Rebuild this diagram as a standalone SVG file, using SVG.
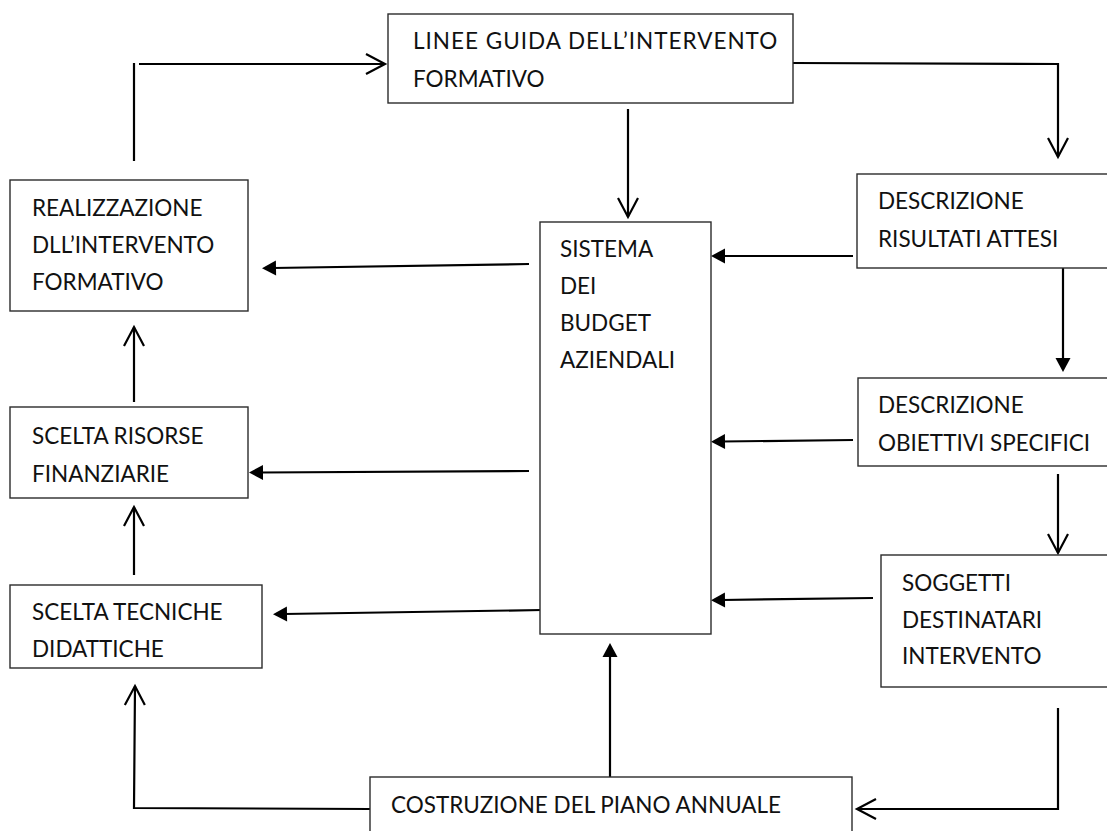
<svg xmlns="http://www.w3.org/2000/svg" width="1107" height="831" viewBox="0 0 1107 831">
  <style>
    .box { fill: #ffffff; stroke: #2b2b2b; stroke-width: 1.4; }
    .lbl { font-family: Lato, "Open Sans", "Liberation Sans", sans-serif; font-size: 22.5px; fill: #111111; }
    .wire { fill: none; stroke: #000000; stroke-width: 2.2; }
    .open { marker-end: url(#chevron); }
    .solid { marker-end: url(#tri); }
  </style>
  <defs>
    <marker id="chevron" markerUnits="userSpaceOnUse" markerWidth="40" markerHeight="40" refX="0" refY="0" orient="auto" overflow="visible">
      <path d="M-19,-10 L0,0 L-19,10" fill="none" stroke="#000000" stroke-width="2.2"/>
    </marker>
    <marker id="tri" markerUnits="userSpaceOnUse" markerWidth="40" markerHeight="40" refX="0" refY="0" orient="auto" overflow="visible">
      <path d="M-3,-7.5 L11,0 L-3,7.5 Z" fill="#000000"/>
    </marker>
  </defs>
  <rect width="1107" height="831" fill="#ffffff"/>

  <!-- connectors -->
  <g id="connectors">
    <!-- loop back to the guidelines -->
    <line class="wire" x1="134" y1="161" x2="134" y2="63"/>
    <line class="wire open" x1="139" y1="64" x2="385" y2="64"/>
    <!-- guidelines to expected results -->
    <polyline class="wire open" points="793,63 1058,64 1058,157"/>
    <!-- guidelines to budget system -->
    <line class="wire open" x1="628" y1="109" x2="628" y2="217"/>
    <!-- right column down -->
    <line class="wire solid" x1="1063" y1="268" x2="1063" y2="361"/>
    <line class="wire open" x1="1058" y1="474" x2="1058" y2="553"/>
    <polyline class="wire open" points="1058,708 1058,809 857,809"/>
    <!-- right column into budget system -->
    <line class="wire solid" x1="853" y1="256" x2="722" y2="256"/>
    <line class="wire solid" x1="853" y1="440" x2="722" y2="441.5"/>
    <line class="wire solid" x1="873" y1="598" x2="722" y2="600"/>
    <!-- budget system out to the left column -->
    <line class="wire solid" x1="529" y1="264" x2="273" y2="268"/>
    <line class="wire solid" x1="529" y1="471" x2="260" y2="472.5"/>
    <line class="wire solid" x1="542" y1="610" x2="284" y2="614"/>
    <!-- annual plan up into budget system -->
    <line class="wire solid" x1="610" y1="777" x2="610" y2="654"/>
    <!-- annual plan to the left column -->
    <polyline class="wire open" points="370,809 134,808 135,686"/>
    <!-- left column up -->
    <line class="wire open" x1="134" y1="575" x2="134" y2="507"/>
    <line class="wire open" x1="134" y1="402" x2="134" y2="327"/>
  </g>

  <g id="node-linee-guida">
    <rect class="box" x="388" y="14" width="405" height="89"/>
    <text class="lbl" x="413" y="49" letter-spacing="1">LINEE GUIDA DELL’INTERVENTO</text>
    <text class="lbl" x="413" y="87">FORMATIVO</text>
  </g>

  <g id="node-realizzazione">
    <rect class="box" x="10" y="180" width="238" height="131"/>
    <text class="lbl" x="32" y="216">REALIZZAZIONE</text>
    <text class="lbl" x="32" y="253">DLL’INTERVENTO</text>
    <text class="lbl" x="32" y="290">FORMATIVO</text>
  </g>

  <g id="node-risorse">
    <rect class="box" x="10" y="407" width="238" height="91"/>
    <text class="lbl" x="32" y="444">SCELTA RISORSE</text>
    <text class="lbl" x="32" y="482">FINANZIARIE</text>
  </g>

  <g id="node-tecniche">
    <rect class="box" x="10" y="585" width="252" height="83"/>
    <text class="lbl" x="32" y="620">SCELTA TECNICHE</text>
    <text class="lbl" x="32" y="657">DIDATTICHE</text>
  </g>

  <g id="node-budget">
    <rect class="box" x="540" y="222" width="171" height="412"/>
    <text class="lbl" x="560" y="257">SISTEMA</text>
    <text class="lbl" x="560" y="294">DEI</text>
    <text class="lbl" x="560" y="331">BUDGET</text>
    <text class="lbl" x="560" y="368">AZIENDALI</text>
  </g>

  <g id="node-risultati">
    <rect class="box" x="857" y="174" width="262" height="94"/>
    <text class="lbl" x="878" y="209">DESCRIZIONE</text>
    <text class="lbl" x="878" y="247">RISULTATI ATTESI</text>
  </g>

  <g id="node-obiettivi">
    <rect class="box" x="858" y="378" width="262" height="88"/>
    <text class="lbl" x="878" y="413">DESCRIZIONE</text>
    <text class="lbl" x="878" y="451">OBIETTIVI SPECIFICI</text>
  </g>

  <g id="node-soggetti">
    <rect class="box" x="881" y="555" width="240" height="132"/>
    <text class="lbl" x="902" y="591">SOGGETTI</text>
    <text class="lbl" x="902" y="628">DESTINATARI</text>
    <text class="lbl" x="902" y="664">INTERVENTO</text>
  </g>

  <g id="node-piano">
    <rect class="box" x="370" y="777" width="482" height="70"/>
    <text class="lbl" x="391" y="813">COSTRUZIONE DEL PIANO ANNUALE</text>
  </g>
</svg>
